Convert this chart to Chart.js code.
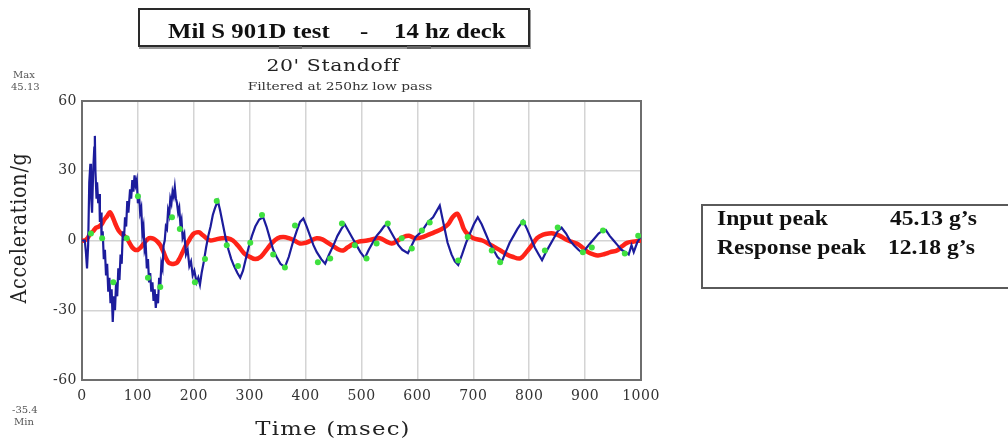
<!DOCTYPE html>
<html>
<head>
<meta charset="utf-8">
<script src="https://cdn.jsdelivr.net/npm/chart.js@4.4.1/dist/chart.umd.min.js"></script>
<style>
  body { margin: 0; background: #fff; width: 1008px; height: 442px; overflow: hidden; position: relative; font-family: "DejaVu Serif", serif; color: #222; }
  #chart { position: absolute; left: 0; top: 0; }
  .t { position: absolute; white-space: pre; }
  .bold { font-family: "Liberation Serif", "Times New Roman", serif; font-weight: bold; font-size: 21px; line-height: 24px; color: #111; transform: scaleX(1.18); transform-origin: left center; }
  .small { font-size: 10px; line-height: 12px; color: #555; }
  #titleBox { position: absolute; left: 138px; top: 8px; width: 388px; height: 35px; border: 2px solid #2a2a2a; box-shadow: 1px 2px 0 #9a9a9a; }
  .tab { position: absolute; top: 46px; height: 3px; background: #666; }
  #peakBox { position: absolute; left: 701px; top: 204px; width: 330px; height: 81px; border: 2px solid #5a5a5a; }
</style>
</head>
<body>
<canvas id="chart" width="1008" height="442"></canvas>

<div id="titleBox"></div>
<div class="t bold" style="left:168px;top:19px">Mil S 901D test</div>
<div class="t bold" style="left:360px;top:19px">-</div>
<div class="t bold" style="left:394px;top:19px">14 hz deck</div>
<div class="tab" style="left:279px;width:23px"></div>
<div class="tab" style="left:407px;width:24px"></div>

<div class="t" style="left:133px;width:400px;top:55px;text-align:center;font-size:17px;line-height:20px;letter-spacing:0.5px;transform:scaleX(1.2);">20' Standoff</div>
<div class="t" style="left:140px;width:400px;top:80px;text-align:center;font-size:11px;line-height:13px;color:#333;transform:scaleX(1.25);">Filtered at 250hz low pass</div>

<div class="t small" style="left:13px;top:69px">Max</div>
<div class="t small" style="left:11px;top:81px">45.13</div>
<div class="t small" style="left:12px;top:404px">-35.4</div>
<div class="t small" style="left:14px;top:416px">Min</div>

<div class="t" style="left:133px;width:400px;top:417px;text-align:center;font-size:19px;line-height:22px;letter-spacing:1px;transform:scaleX(1.2);">Time (msec)</div>
<div class="t" style="left:-82px;width:200px;top:216px;text-align:center;font-size:19px;line-height:24px;letter-spacing:0.8px;transform:rotate(-90deg) scaleY(1.2);">Acceleration/g</div>

<div id="peakBox"></div>
<div class="t bold" style="left:717px;top:206px;font-size:20px">Input peak</div>
<div class="t bold" style="left:890px;top:206px;font-size:20px">45.13 g’s</div>
<div class="t bold" style="left:717px;top:235px;font-size:20px">Response peak</div>
<div class="t bold" style="left:888px;top:235px;font-size:20px">12.18 g’s</div>

<script>
// input (blue) trace, time in msec / acceleration in g
const inputMs = [
  0, 5, 7, 9, 11, 13, 15, 16, 18, 20,
  22, 23, 24, 26, 27, 29, 31, 32, 34, 35,
  37, 39, 41, 43, 45, 47, 49, 51, 53, 55,
  57, 59, 61, 63, 65, 67, 69, 71, 73, 75,
  77, 79, 81, 83, 86, 88, 90, 92, 94, 96,
  98, 100, 102, 104, 106, 108, 110, 112, 114, 116,
  118, 120, 122, 124, 126, 128, 130, 132, 134, 136,
  138, 140, 142, 144, 146, 148, 150, 152, 154, 156,
  158, 160, 162, 164, 166, 168, 170, 172, 174, 176,
  178, 180, 183, 186, 189, 192, 195, 198, 201, 205,
  208, 211, 214, 218, 222, 226, 230, 234, 238, 243,
  247, 252, 257, 262, 267, 272, 278, 283, 288, 293,
  298, 304, 310, 317, 324, 330, 336, 342, 348, 355,
  363, 370, 377, 384, 390, 396, 402, 408, 414, 420,
  428, 435, 442, 450, 457, 464, 470, 477, 484, 491,
  498, 506, 513, 520, 527, 534, 540, 545, 552, 559,
  566, 573, 583, 590, 597, 608, 619, 628, 640, 647,
  654, 661, 667, 673, 680, 687, 694, 701, 708, 715,
  722, 729, 736, 743, 751, 758, 765, 772, 779, 789,
  796, 803, 810, 817, 823, 830, 837, 844, 851, 858,
  866, 873, 880, 888, 896, 903, 910, 917, 924, 930,
  937, 944, 951, 958, 965, 972, 978, 983, 987, 993, 1000
];
const inputG = [
  0, 0, -5, -12, -2, 25, 33, 20, 12, 30,
  40, 45, 30, 18, 25, 16, 20, 8, 12, 0,
  4, -8, -4, -15, -10, -22, -16, -27, -21, -35,
  -24, -30, -18, -24, -12, -17, -6, -10, 4, 0,
  10, 6, 17, 12, 22, 18, 26, 21, 28, 24,
  26, 16, 20, 12, 14, 3, 6, -4, -2, -12,
  -8, -18, -14, -22, -18, -26, -21, -29, -23, -27,
  -16, -20, -10, -12, -2, 0, 6, 5, 13, 11,
  18, 16, 21, 19, 23, 18, 16, 12, 14, 7,
  9, 1, 3, -6, -4, -11, -9, -15, -13, -18,
  -16, -19, -14, -9, -3, 2, 6, 11, 14, 17,
  13, 7, 1, -4, -8, -11, -14, -16, -13, -8,
  -3, 2, 6, 9, 10, 6, 1, -4, -7, -10,
  -11.5, -7, -1, 4, 8, 9.5, 6, 2, -2, -5,
  -8, -10, -6, -2, 2, 5, 7, 4, 1, -2,
  -5, -7.5, -4, -1, 2, 4, 6, 7, 4, 1,
  -2, -4, -5.5, -2, 1.5, 4, 8, 10, 15, 7,
  -1, -6, -9, -10.5, -6, -1, 3, 7, 10, 7,
  3, -1, -4, -7, -9, -5, -1, 2, 5, 8.5,
  5, 1, -3, -6, -8.5, -5, -2, 1, 4, 5.5,
  3, 0, -2, -4, -5.5, -3, -1, 1, 3, 4,
  4.5, 2, 0, -2, -4, -5, -6, -2, -5, -1, 2
];

// response (red) trace
const respMs = [
  0, 5, 10, 15, 20, 25, 30, 35, 40, 45,
  50, 55, 60, 65, 70, 75, 80, 85, 90, 95,
  100, 105, 110, 115, 120, 125, 130, 135, 140, 145,
  150, 155, 160, 165, 170, 175, 180, 185, 190, 195,
  200, 205, 210, 215, 220, 225, 230, 240, 250, 260,
  270, 280, 290, 300, 310, 320, 330, 340, 350, 360,
  370, 380, 390, 400, 410, 420, 430, 440, 450, 460,
  467, 475, 485, 495, 510, 520, 533, 545, 554, 565,
  575, 585, 596, 610, 620, 630, 644, 655, 663, 671,
  677, 683, 689, 700, 716, 728, 739, 750, 760, 770,
  784, 795, 805, 814, 825, 835, 843, 855, 865, 875,
  885, 895, 905, 915, 923, 935, 945, 957, 966, 975, 985, 1000
];
const respG = [
  0, 0, 1, 3, 4, 5.5, 6, 7, 9, 10.5,
  12.2, 10, 7, 4.5, 3, 2, 1, -1, -3, -4,
  -4, -3, -1.5, 0, 1, 1, 0.5, -0.5, -2, -4.5,
  -7.5, -9.5, -10, -10, -9.5, -7.5, -5, -2.5, -0.5, 1.5,
  3, 3.5, 3.5, 2.5, 1.5, 0.5, 0, 0.5, 1, 1,
  0, -2.5, -5.5, -7, -8, -7, -4, -1, 1, 1.5,
  1, 0, -1.3, -1, 0, 1, 0.5, -1, -2.5, -4,
  -4.3, -3, -1.5, -0.5, 0, 0.5, 1, -0.5, -1.3, 0,
  1.5, 2, 1, 1.5, 2.5, 3.5, 5, 7, 10, 11.5,
  9, 5, 3, 1, 0, -1.5, -3, -4.5, -6, -7,
  -7.7, -5, -2, 1, 2.5, 3, 3, 2, 0.5, -0.5,
  -1.3, -3, -5, -6, -6.4, -5.8, -5, -4.3, -2.5, -1, -0.5, 0
];

// green sample markers
const markMs = [
  16, 36, 56, 80, 100, 118, 140, 161, 175, 202,
  220, 241, 259, 279, 301, 322, 342, 363, 381, 422,
  444, 465, 488, 509, 527, 547, 572, 590, 608, 622,
  673, 690, 733, 748, 789, 828, 851, 896, 912, 932,
  971, 995
];
const markG = [
  3, 1, -18, 1, 19, -16, -20, 10, 5, -18,
  -8, 17, -2, -11, -1, 11, -6, -11.6, 6.4, -9.4,
  -7.7, 7.3, -2, -7.7, -1.3, 7.3, 1, -3.4, 4.3, 7.7,
  -8.6, 1.5, -4.3, -9.4, 7.7, -4.3, 5.6, -5, -3, 4.3,
  -5.6, 2
];

const xTickVals = [0, 100, 200, 300, 400, 500, 600, 700, 800, 900, 1000];
const yTickVals = [-60, -30, 0, 30, 60];

function pts(xs, ys) {
  return xs.map((x, i) => ({ x: x, y: ys[i] }));
}

const framePlugin = {
  id: 'frame',
  beforeDraw(chart) {
    chart.ctx.letterSpacing = '0.5px';
  },
  beforeDatasetsDraw(chart) {
    const ctx = chart.ctx, a = chart.chartArea;
    ctx.save();
    ctx.strokeStyle = '#6e6e6e';
    ctx.lineWidth = 2;
    ctx.strokeRect(a.left, a.top, a.right - a.left, a.bottom - a.top);
    ctx.restore();
  }
};

const tickFont = { family: 'DejaVu Serif', size: 14 };

new Chart(document.getElementById('chart').getContext('2d'), {
  type: 'scatter',
  data: {
    datasets: [
      {
        label: 'samples',
        data: pts(markMs, markG),
        showLine: false,
        pointRadius: 3,
        pointBorderWidth: 0,
        pointBackgroundColor: '#3fe03f'
      },
      {
        label: 'input',
        data: pts(inputMs, inputG),
        showLine: true,
        borderColor: '#1c1c9c',
        borderWidth: 2.2,
        pointRadius: 0,
        tension: 0
      },
      {
        label: 'response',
        data: pts(respMs, respG),
        showLine: true,
        borderColor: '#ff2318',
        borderWidth: 4.5,
        pointRadius: 0,
        tension: 0.35
      }
    ]
  },
  options: {
    responsive: false,
    animation: false,
    layout: { padding: { left: 0, top: 101, right: 367, bottom: 0 } },
    plugins: { legend: { display: false }, tooltip: { enabled: false } },
    scales: {
      x: {
        type: 'linear',
        min: 0, max: 1000,
        afterBuildTicks: s => { s.ticks = xTickVals.map(v => ({ value: v })); },
        afterFit: s => { s.height = 62; },
        ticks: { font: tickFont, color: '#333', padding: 8, maxRotation: 0, callback: v => String(v) },
        grid: { color: '#d4d4d4', lineWidth: 1.5, drawTicks: false },
        border: { display: false }
      },
      y: {
        min: -60, max: 60,
        afterBuildTicks: s => { s.ticks = yTickVals.map(v => ({ value: v })); },
        afterFit: s => { s.width = 82; },
        ticks: { font: tickFont, color: '#333', padding: 5, callback: v => String(v) },
        grid: { color: '#d4d4d4', lineWidth: 1.5, drawTicks: false },
        border: { display: false }
      }
    }
  },
  plugins: [framePlugin]
});
</script>
</body>
</html>
